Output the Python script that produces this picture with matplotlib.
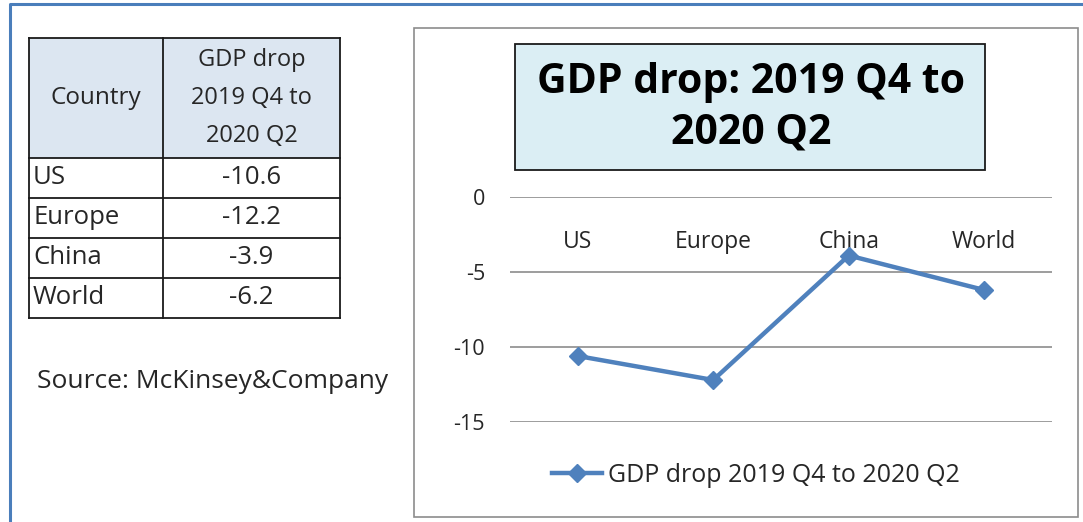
import matplotlib

matplotlib.use("Agg")
import matplotlib.pyplot as plt
from matplotlib.patches import Rectangle

plt.rcParams["font.family"] = ["Open Sans", "DejaVu Sans"]

countries = ["US", "Europe", "China", "World"]
gdp_drop = [-10.6, -12.2, -3.9, -6.2]
y_ticks = [0, -5, -10, -15]
series_label = "GDP drop 2019 Q4 to 2020 Q2"
title = "GDP drop: 2019 Q4 to\n2020 Q2"
table_header = ["Country", "GDP drop\n2019 Q4 to\n2020 Q2"]
source_note = "Source: McKinsey&Company"

W, H = 1083, 522
BLUE = "#4f81bd"
TEXT = "#262626"

fig = plt.figure(figsize=(W / 100, H / 100), dpi=100)

# pixel-space overlay for frames, table and notes
bg = fig.add_axes([0, 0, 1, 1])
bg.set_xlim(0, W)
bg.set_ylim(H, 0)
bg.axis("off")

# outer blue frame (left + top edges visible)
bg.plot([10, 10, W + 5], [H + 5, 4, 4], color="#4a7ebb", lw=2.2, solid_capstyle="butt")

# chart box
bg.add_patch(Rectangle((414, 28), 664, 489, facecolor="white", edgecolor="#8c8c8c", lw=1.2))

# table
tx0, tx1, tx2 = 29, 163, 340
header_top, header_bot, row_h = 38, 158, 40
bg.add_patch(Rectangle((tx0, header_top), tx2 - tx0, header_bot - header_top,
                       facecolor="#dce6f1", edgecolor="none"))
n_rows = len(countries)
table_bot = header_bot + n_rows * row_h
for y in [header_top, header_bot] + [header_bot + (i + 1) * row_h for i in range(n_rows)]:
    bg.plot([tx0, tx2], [y, y], color="#1a1a1a", lw=1.3)
for x in (tx0, tx1, tx2):
    bg.plot([x, x], [header_top, table_bot], color="#1a1a1a", lw=1.3)

bg.text((tx0 + tx1) / 2, (header_top + header_bot) / 2, table_header[0],
        ha="center", va="center", fontsize=17.5, color=TEXT)
bg.text((tx1 + tx2) / 2, (header_top + header_bot) / 2, table_header[1],
        ha="center", va="center", fontsize=17, color=TEXT, linespacing=1.75)
for i, (c, v) in enumerate(zip(countries, gdp_drop)):
    yc = header_bot + (i + 0.5) * row_h
    bg.text(tx0 + 4, yc, c, ha="left", va="center", fontsize=18.5, color=TEXT)
    bg.text((tx1 + tx2) / 2, yc, f"{v:.1f}", ha="center", va="center", fontsize=18.5, color=TEXT)

bg.text(37, 381, source_note, ha="left", va="center", fontsize=19, color=TEXT)

# title box
bg.add_patch(Rectangle((515, 44), 470, 126, facecolor="#dbeef4", edgecolor="#1a1a1a", lw=1.3))
bg.text(751, 108, title, ha="center", va="center", fontsize=29.5, fontweight="bold",
        color="black", linespacing=1.32)

# line chart
ax = fig.add_axes([510 / W, (H - 422) / H, 542 / W, 225 / H])
ax.set_facecolor("none")
ax.plot(range(len(countries)), gdp_drop, color=BLUE, lw=3.2, marker="D", ms=9,
        markerfacecolor=BLUE, markeredgecolor=BLUE, label=series_label, zorder=3)
ax.set_xlim(-0.5, len(countries) - 0.5)
ax.set_ylim(min(y_ticks), max(y_ticks))
ax.set_yticks(y_ticks)
ax.set_yticklabels([str(t) for t in y_ticks])
ax.yaxis.grid(True, color="#8c8c8c", lw=1.2)
ax.set_axisbelow(True)
for s in ax.spines.values():
    s.set_visible(False)
ax.xaxis.tick_top()
ax.set_xticks(range(len(countries)), labels=countries)
ax.tick_params(axis="x", length=0, pad=-41, labelsize=16.5, labelcolor=TEXT)
ax.tick_params(axis="y", length=0, pad=18, labelsize=15.5, labelcolor=TEXT)
for lbl in ax.get_xticklabels():
    lbl.set_verticalalignment("bottom")

leg = ax.legend(loc="center", bbox_to_anchor=(756 / W, (H - 475) / H),
                bbox_transform=fig.transFigure, frameon=False, fontsize=18,
                handlelength=2.0, handletextpad=0.25, labelcolor=TEXT)

fig.savefig("out.png", dpi=100)
